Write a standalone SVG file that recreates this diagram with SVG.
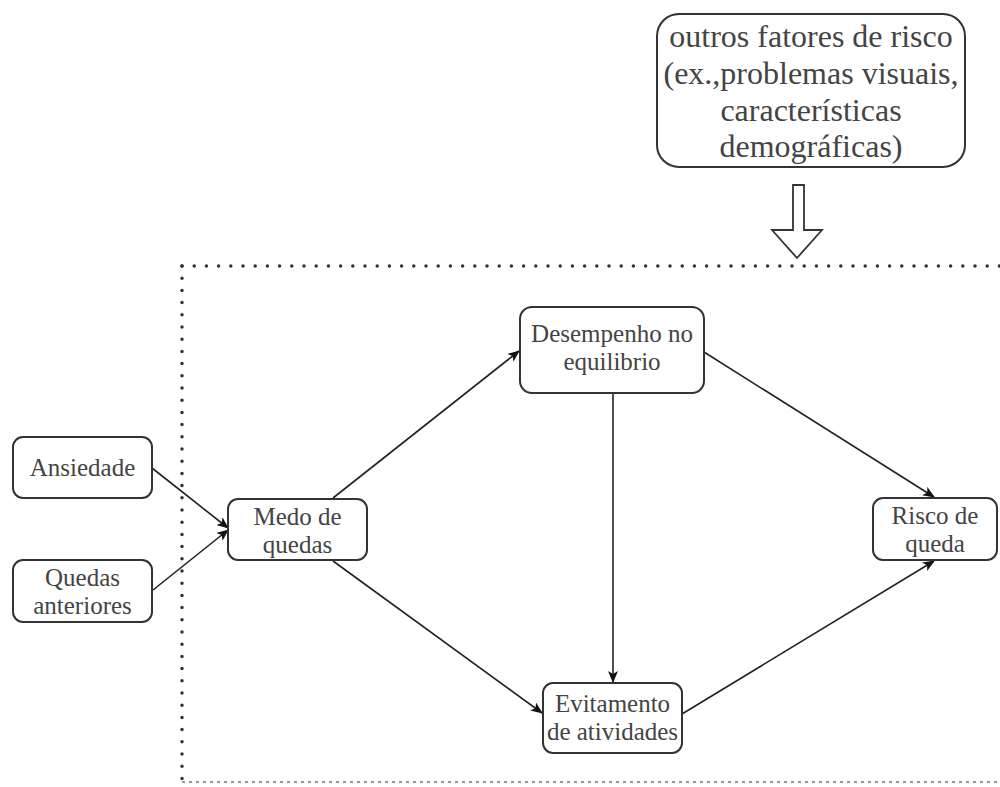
<svg xmlns="http://www.w3.org/2000/svg" width="1000" height="787" viewBox="0 0 1000 787">
<style>
.box{fill:#fff;stroke:#333;stroke-width:2}
.t{font-family:'Liberation Serif','DejaVu Serif',serif;font-size:25px;fill:#444;text-anchor:middle}
.tb{font-family:'Liberation Serif','DejaVu Serif',serif;font-size:32px;fill:#444;text-anchor:middle}
.c{stroke:#222;stroke-width:1.6;fill:none;marker-end:url(#ah)}
.dot{stroke:#333;stroke-width:3.5;stroke-linecap:round;stroke-dasharray:0 12.2;fill:none}
</style>
<defs>
<marker id="ah" viewBox="0 0 12 10" refX="11" refY="5" markerWidth="12" markerHeight="10" markerUnits="userSpaceOnUse" orient="auto">
<path d="M0,0 L12,5 L0,10 L3,5 Z" fill="#111"/>
</marker>
</defs>
<rect width="1000" height="787" fill="#fff"/>
<g id="boundary">
<path class="dot" d="M182,266 H1000"/>
<path class="dot" d="M182,266 V782"/>
<path d="M182,782 H1000" stroke="#999" stroke-width="2" stroke-dasharray="3 4" fill="none"/>
</g>
<g id="outros">
<rect class="box" x="657" y="14" width="308" height="153" rx="22"/>
<text class="tb" x="811" y="47">outros fatores de risco</text>
<text class="tb" x="811" y="84">(ex.,problemas visuais,</text>
<text class="tb" x="811" y="121">características</text>
<text class="tb" x="811" y="157">demográficas)</text>
</g>
<g id="hollow-arrow">
<path d="M793,185 H804 V230 H822 L797,258 L772,230 H793 Z" fill="#fff" stroke="#333" stroke-width="1.8"/>
</g>
<g id="connectors">
<path class="c" d="M152,468 L228,528"/>
<path class="c" d="M153,590 L228,530"/>
<path class="c" d="M333,498 L519,351"/>
<path class="c" d="M333,561 L542,713"/>
<path class="c" d="M704,352 L934,497"/>
<path class="c" d="M613,393 V682"/>
<path class="c" d="M682,714 L934,561"/>
</g>
<g id="ansiedade">
<rect class="box" x="13" y="437" width="139" height="61" rx="10"/>
<text class="t" x="82.5" y="476">Ansiedade</text>
</g>
<g id="quedas-anteriores">
<rect class="box" x="13" y="560" width="139" height="62" rx="10"/>
<text class="t" x="82.5" y="586">Quedas</text>
<text class="t" x="82.5" y="614">anteriores</text>
</g>
<g id="medo">
<rect class="box" x="228" y="499" width="139" height="61" rx="10"/>
<text class="t" x="297.5" y="525">Medo de</text>
<text class="t" x="297.5" y="553">quedas</text>
</g>
<g id="desempenho">
<rect class="box" x="520" y="307" width="184" height="86" rx="12"/>
<text class="t" x="612" y="342">Desempenho no</text>
<text class="t" x="612" y="370">equilibrio</text>
</g>
<g id="evitamento">
<rect class="box" x="543" y="683" width="139" height="70" rx="10"/>
<text class="t" x="612.5" y="712">Evitamento</text>
<text class="t" x="612.5" y="740">de atividades</text>
</g>
<g id="risco">
<rect class="box" x="873" y="498" width="124" height="62" rx="10"/>
<text class="t" x="935" y="524">Risco de</text>
<text class="t" x="935" y="552">queda</text>
</g>
</svg>
